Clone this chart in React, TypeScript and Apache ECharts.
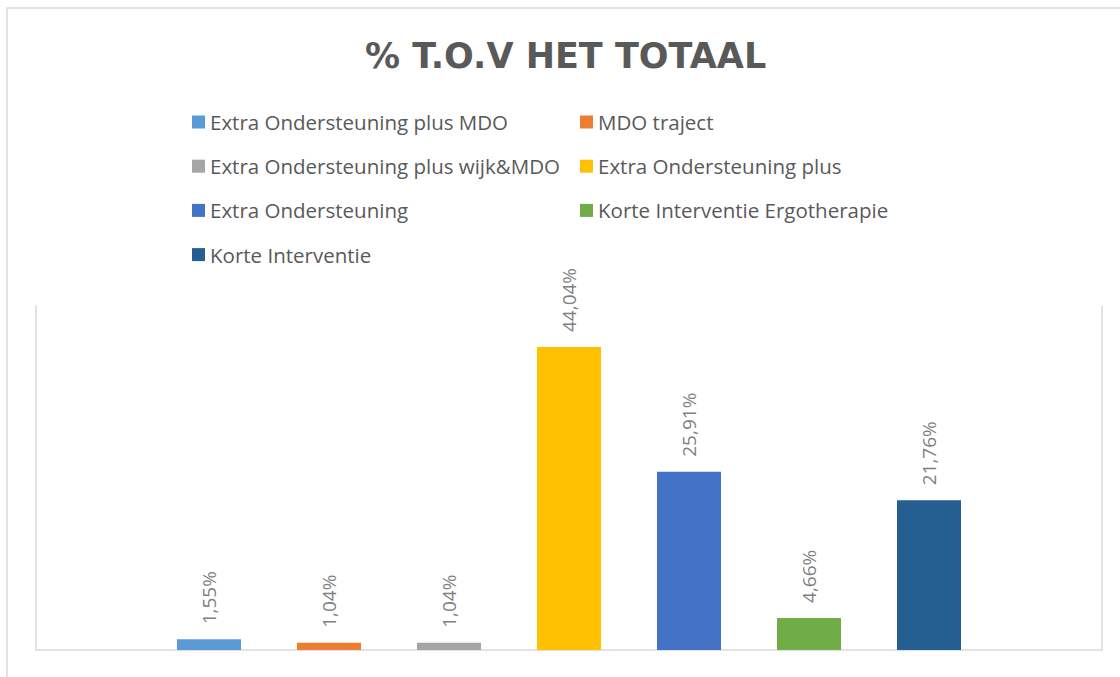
import React, { useEffect, useRef } from "react";
import * as echarts from "echarts";

const titleText = "% T.O.V HET TOTAAL";
const seriesNames = [
  "Extra Ondersteuning plus MDO",
  "MDO traject",
  "Extra Ondersteuning plus wijk&MDO",
  "Extra Ondersteuning plus",
  "Extra Ondersteuning",
  "Korte Interventie Ergotherapie",
  "Korte Interventie",
];
const seriesValues = [1.55, 1.04, 1.04, 44.04, 25.91, 4.66, 21.76];
const seriesColors = ["#5B9BD5", "#ED7D31", "#A5A5A5", "#FFC000", "#4472C4", "#70AD47", "#255E91"];
const categories = [""];
const legendCol1 = [seriesNames[0], seriesNames[2], seriesNames[4], seriesNames[6]];
const legendCol2 = [seriesNames[1], seriesNames[3], seriesNames[5]];

const fmt = (v: number) => v.toFixed(2).replace(".", ",") + "%";

export default function App() {
  const ref = useRef<HTMLDivElement>(null);
  useEffect(() => {
    if (!ref.current) return;
    const chart = echarts.init(ref.current, null, { renderer: "svg" });
    const font = "Open Sans";
    const legendBase = {
      orient: "vertical" as const,
      icon: "rect",
      itemWidth: 13,
      itemHeight: 13,
      itemGap: 20.2,
      padding: 0,
      textStyle: { color: "#595959", fontSize: 20.5, fontFamily: font, lineHeight: 24 },
      selectedMode: false,
    };
    chart.setOption({
      animation: false,
      backgroundColor: "#ffffff",
      title: {
        text: titleText,
        left: 360,
        top: 33,
        textStyle: { color: "#595959", fontSize: 35, fontWeight: "bold", fontFamily: "DejaVu Sans" },
      },
      legend: [
        { ...legendBase, left: 192, top: 110, data: legendCol1 },
        { ...legendBase, left: 580, top: 110, data: legendCol2 },
      ],
      graphic: [
        {
          type: "rect",
          shape: { x: 7, y: 8, width: 1300, height: 900 },
          style: { fill: "none", stroke: "#d9d9d9", lineWidth: 1.5 },
          silent: true,
        },
      ],
      grid: { left: 36, right: 18, top: 306, bottom: 27 },
      xAxis: {
        type: "category",
        data: categories,
        axisLine: { show: true, lineStyle: { color: "#d9d9d9", width: 1.5 } },
        axisTick: { show: false },
        axisLabel: { show: false },
      },
      yAxis: [
        {
          type: "value",
          min: 0,
          max: 50,
          position: "left",
          axisLine: { show: true, lineStyle: { color: "#d9d9d9", width: 1.5 } },
          axisTick: { show: false },
          axisLabel: { show: false },
          splitLine: { show: false },
        },
        {
          type: "value",
          min: 0,
          max: 50,
          position: "right",
          axisLine: { show: true, lineStyle: { color: "#d9d9d9", width: 1.5 } },
          axisTick: { show: false },
          axisLabel: { show: false },
          splitLine: { show: false },
        },
      ],
      series: seriesNames.map((name, i) => ({
        name,
        type: "bar",
        data: [seriesValues[i]],
        barWidth: 64,
        barGap: "87.5%",
        itemStyle: { color: seriesColors[i] },
        label: {
          show: true,
          position: "top",
          rotate: 90,
          align: "left",
          verticalAlign: "middle",
          distance: 15,
          color: "#7f7f7f",
          fontSize: 19,
          fontFamily: font,
          formatter: (p: any) => fmt(p.value),
        },
      })),
    });
    return () => chart.dispose();
  }, []);
  return (
    <div
      ref={ref}
      style={{ position: "fixed", left: 0, top: 0, width: 1120, height: 677 }}
    />
  );
}
